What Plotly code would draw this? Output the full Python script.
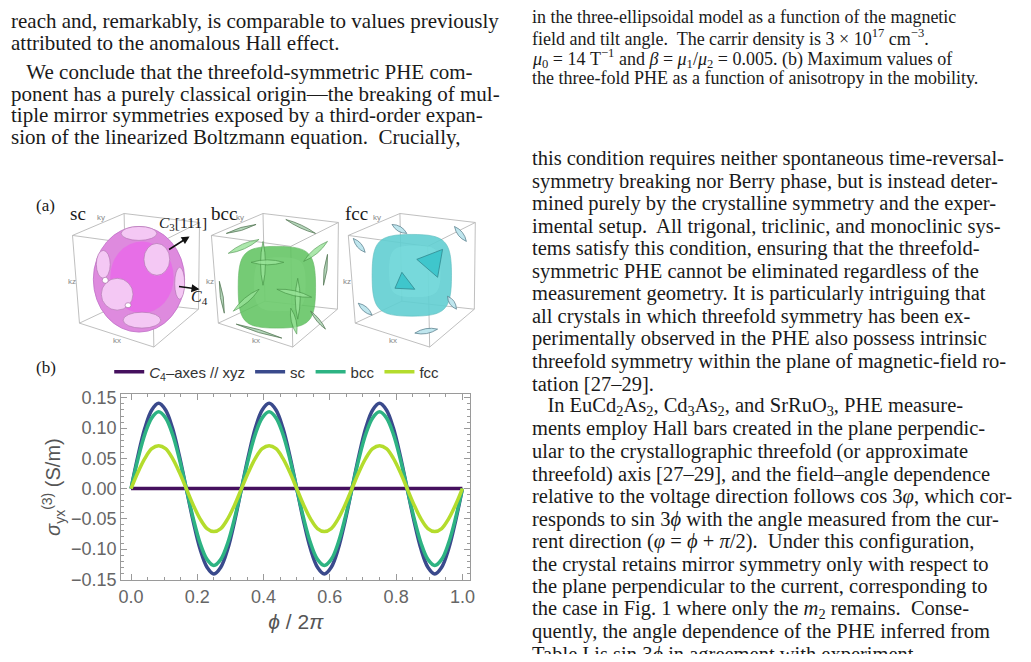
import plotly.graph_objects as go

W, H = 1031, 662
M = 8  # the browser puts an 8px body margin around the figure
# small vertical calibration measured from an earlier render
CAL_S, CAL_C = 0.98, 4.0

# ---- data ----
phi = [0.0, 0.0208, 0.0417, 0.0625, 0.0833, 0.1042, 0.125, 0.1458, 0.1667, 0.1875, 0.2083, 0.2292,
       0.25, 0.2708, 0.2917, 0.3125, 0.3333, 0.3542, 0.375, 0.3958, 0.4167, 0.4375, 0.4583, 0.4792,
       0.5, 0.5208, 0.5417, 0.5625, 0.5833, 0.6042, 0.625, 0.6458, 0.6667, 0.6875, 0.7083, 0.7292,
       0.75, 0.7708, 0.7917, 0.8125, 0.8333, 0.8542, 0.875, 0.8958, 0.9167, 0.9375, 0.9583, 0.9792, 1.0]
sc = [0.0, 0.054, 0.100, 0.130, 0.141, 0.130, 0.100, 0.054, 0.0, -0.054, -0.100, -0.130,
      -0.141, -0.130, -0.100, -0.054, 0.0, 0.054, 0.100, 0.130, 0.141, 0.130, 0.100, 0.054,
      0.0, -0.054, -0.100, -0.130, -0.141, -0.130, -0.100, -0.054, 0.0, 0.054, 0.100, 0.130,
      0.141, 0.130, 0.100, 0.054, 0.0, -0.054, -0.100, -0.130, -0.141, -0.130, -0.100, -0.054, 0.0]
bcc = [0.0, 0.049, 0.090, 0.117, 0.127, 0.117, 0.090, 0.049, 0.0, -0.049, -0.090, -0.117,
       -0.127, -0.117, -0.090, -0.049, 0.0, 0.049, 0.090, 0.117, 0.127, 0.117, 0.090, 0.049,
       0.0, -0.049, -0.090, -0.117, -0.127, -0.117, -0.090, -0.049, 0.0, 0.049, 0.090, 0.117,
       0.127, 0.117, 0.090, 0.049, 0.0, -0.049, -0.090, -0.117, -0.127, -0.117, -0.090, -0.049, 0.0]
fcc = [0.0, 0.027, 0.050, 0.066, 0.071, 0.066, 0.050, 0.027, 0.0, -0.027, -0.050, -0.066,
       -0.071, -0.066, -0.050, -0.027, 0.0, 0.027, 0.050, 0.066, 0.071, 0.066, 0.050, 0.027,
       0.0, -0.027, -0.050, -0.066, -0.071, -0.066, -0.050, -0.027, 0.0, 0.027, 0.050, 0.066,
       0.071, 0.066, 0.050, 0.027, 0.0, -0.027, -0.050, -0.066, -0.071, -0.066, -0.050, -0.027, 0.0]
c4_phi = [0.0, 1.0]
c4 = [0.0, 0.0]

names = ["<i>C</i><sub>4</sub>\u2013axes // xyz", "sc", "bcc", "fcc"]
colors = ["#45105e", "#3a4a8c", "#2db383", "#b4dc2d"]

# ---- page text ----
left_lines = [
    "reach and, remarkably, is comparable to values previously",
    "attributed to the anomalous Hall effect.",
    "   We conclude that the threefold-symmetric PHE com-",
    "ponent has a purely classical origin\u2014the breaking of mul-",
    "tiple mirror symmetries exposed by a third-order expan-",
    "sion of the linearized Boltzmann equation.  Crucially,",
]
left_y = [19, 41, 70, 92, 113, 135]

caption_lines = [
    "in the three-ellipsoidal model as a function of the magnetic",
    "field and tilt angle.  The carrir density is 3 \u00d7 10<sup>17</sup> cm<sup>\u22123</sup>.",
    "<i>\u03bc</i><sub>0</sub> = 14 T<sup>\u22121</sup> and <i>\u03b2</i> = <i>\u03bc</i><sub>1</sub>/<i>\u03bc</i><sub>2</sub> = 0.005. (b) Maximum values of",
    "the three-fold PHE as a function of anisotropy in the mobility.",
]
caption_y = [15, 35.5, 56, 76.5]

body_lines = [
    "this condition requires neither spontaneous time-reversal-",
    "symmetry breaking nor Berry phase, but is instead deter-",
    "mined purely by the crystalline symmetry and the exper-",
    "imental setup.  All trigonal, triclinic, and monoclinic sys-",
    "tems satisfy this condition, ensuring that the threefold-",
    "symmetric PHE cannot be eliminated regardless of the",
    "measurement geometry. It is particularly intriguing that",
    "all crystals in which threefold symmetry has been ex-",
    "perimentally observed in the PHE also possess intrinsic",
    "threefold symmetry within the plane of magnetic-field ro-",
    "tation [27\u201329].",
    "   In EuCd<sub>2</sub>As<sub>2</sub>, Cd<sub>3</sub>As<sub>2</sub>, and SrRuO<sub>3</sub>, PHE measure-",
    "ments employ Hall bars created in the plane perpendic-",
    "ular to the crystallographic threefold (or approximate",
    "threefold) axis [27\u201329], and the field\u2013angle dependence",
    "relative to the voltage direction follows cos 3<i>\u03c6</i>, which cor-",
    "responds to sin 3<i>\u03d5</i> with the angle measured from the cur-",
    "rent direction (<i>\u03c6</i> = <i>\u03d5</i> + <i>\u03c0</i>/2).  Under this configuration,",
    "the crystal retains mirror symmetry only with respect to",
    "the plane perpendicular to the current, corresponding to",
    "the case in Fig. 1 where only the <i>m</i><sub>2</sub> remains.  Conse-",
    "quently, the angle dependence of the PHE inferred from",
    "Table I is sin 3<i>\u03d5</i> in agreement with experiment.",
]
body_y0, body_dy = 157, 22.6


def px(x):
    return (x - M) / (W - 2 * M)


def py(y):
    y = (y - CAL_C) / CAL_S
    return 1 - (y - M) / (H - 2 * M)


def path(points, close=True):
    s = "M " + " L ".join("%.5f,%.5f" % (px(x), py(y)) for x, y in points)
    return s + (" Z" if close else "")


def lens(p, q, w):
    mx, my = (p[0] + q[0]) / 2, (p[1] + q[1]) / 2
    dx, dy = q[0] - p[0], q[1] - p[1]
    d = (dx * dx + dy * dy) ** 0.5
    nx, ny = -dy / d * w, dx / d * w
    return ("M %.5f,%.5f Q %.5f,%.5f %.5f,%.5f Q %.5f,%.5f %.5f,%.5f Z" % (
        px(p[0]), py(p[1]), px(mx + nx), py(my + ny), px(q[0]), py(q[1]),
        px(mx - nx), py(my - ny), px(p[0]), py(p[1])))


def squircle(cx, cy, a, b, k=0.85):
    pts = [(cx, cy - b), (cx + a, cy), (cx, cy + b), (cx - a, cy)]
    ctrl = [((cx + k * a, cy - b), (cx + a, cy - k * b)),
            ((cx + a, cy + k * b), (cx + k * a, cy + b)),
            ((cx - k * a, cy + b), (cx - a, cy + k * b)),
            ((cx - a, cy - k * b), (cx - k * a, cy - b))]
    s = "M %.5f,%.5f" % (px(pts[0][0]), py(pts[0][1]))
    for i in range(4):
        c1, c2 = ctrl[i]
        e = pts[(i + 1) % 4]
        s += " C %.5f,%.5f %.5f,%.5f %.5f,%.5f" % (px(c1[0]), py(c1[1]), px(c2[0]), py(c2[1]), px(e[0]), py(e[1]))
    return s + " Z"


def ellipse(fig, cx, cy, rx, ry, fill, line="rgba(0,0,0,0)", op=1.0, lw=0.8):
    fig.add_shape(type="circle", xref="paper", yref="paper",
                  x0=px(cx - rx), x1=px(cx + rx), y0=py(cy + ry), y1=py(cy - ry),
                  fillcolor=fill, opacity=op, line=dict(color=line, width=lw), layer="above")


def text(fig, x, y, s, size, family="Liberation Serif", color="#1a1a1a", anchor="left"):
    fig.add_annotation(x=px(x), y=py(y), xref="paper", yref="paper", text=s, showarrow=False,
                       xanchor=anchor, yanchor="middle", borderpad=0,
                       font=dict(family=family, size=size, color=color))


fig = go.Figure()

fig.add_trace(go.Scatter(x=c4_phi, y=c4, mode="lines", name=names[0],
                         line=dict(color=colors[0], width=3.5)))
fig.add_trace(go.Scatter(x=phi, y=sc, mode="lines", name=names[1],
                         line=dict(color=colors[1], width=3.5, shape="spline")))
fig.add_trace(go.Scatter(x=phi, y=bcc, mode="lines", name=names[2],
                         line=dict(color=colors[2], width=3.5, shape="spline")))
fig.add_trace(go.Scatter(x=phi, y=fcc, mode="lines", name=names[3],
                         line=dict(color=colors[3], width=3.5, shape="spline")))

axis_common = dict(showline=True, linecolor="#9a9a9a", linewidth=1.2, mirror="allticks",
                   ticks="inside", ticklen=6, tickcolor="#9a9a9a", showgrid=False, zeroline=False,
                   tickfont=dict(family="Liberation Sans", size=18, color="#666666"))

fig.update_layout(
    width=W - 2 * M, height=H - 2 * M,
    margin=dict(l=0, r=0, t=0, b=0),
    paper_bgcolor="white", plot_bgcolor="white",
    xaxis=dict(domain=[px(119), px(471)], range=[-0.03, 1.024], tick0=0, dtick=0.2, tickformat=".1f",
               minor=dict(dtick=0.05, ticklen=3, ticks="inside", tickcolor="#9a9a9a"),
               title=dict(text="<i>\u03d5</i> / 2<i>\u03c0</i>", standoff=8,
                          font=dict(family="Liberation Sans", size=21, color="#555555")),
               **axis_common),
    yaxis=dict(domain=[py(580), py(393)], range=[-0.1516, 0.1566], tick0=0, dtick=0.05, tickformat=".2f",
               minor=dict(dtick=0.01, ticklen=3, ticks="inside", tickcolor="#9a9a9a"),
               title=dict(text="<i>\u03c3</i><sub>yx</sub><sup>(3)</sup> (S/m)", standoff=4,
                          font=dict(family="Liberation Sans", size=20, color="#555555")),
               **axis_common),
    legend=dict(orientation="h", x=px(107), y=py(371), xanchor="left", yanchor="middle",
                font=dict(family="Liberation Sans", size=15, color="#333333"),
                bgcolor="rgba(0,0,0,0)", itemwidth=30),
    showlegend=True,
)

# ---- page text ----
for s, y in zip(left_lines, left_y):
    text(fig, 7, y, s, 21)
for s, y in zip(caption_lines, caption_y):
    text(fig, 532, y, s, 18)
for i, s in enumerate(body_lines):
    text(fig, 532, body_y0 + i * body_dy, s, 20.5)

# ---- panel (a): Fermi surface sketches ----
cube = [(70, 234), (122, 212), (198, 221), (150, 245), (77, 322), (124, 300), (197, 308), (152, 346)]
edges = [(0, 1), (1, 2), (2, 3), (3, 0), (4, 5), (5, 6), (6, 7), (7, 4), (0, 4), (1, 5), (2, 6), (3, 7)]


def draw_cube(dx):
    for a, b in edges:
        p = (cube[a][0] + dx, cube[a][1])
        q = (cube[b][0] + dx, cube[b][1])
        fig.add_shape(type="path", path=path([p, q], close=False), xref="paper", yref="paper",
                      line=dict(color="#b8b8b8", width=0.9), layer="above")


def arrow(tail, head):
    fig.add_annotation(x=px(head[0]), y=py(head[1]), xref="paper", yref="paper",
                       ax=tail[0] - head[0], ay=tail[1] - head[1], axref="pixel", ayref="pixel",
                       showarrow=True, arrowhead=2, arrowsize=1, arrowwidth=1.6,
                       arrowcolor="#111111", text="")


# sc
draw_cube(0)
ellipse(fig, 137, 278, 46, 53, "#de8ade", "#c070c8")
ellipse(fig, 140, 276, 32, 36, "#ee5cee", op=0.6)
for cx, cy, rx, ry in [(137, 232, 18, 7), (155, 258, 13, 16), (178, 282, 5, 16),
                       (101, 263, 7, 14), (115, 293, 16, 16), (140, 319, 19, 8)]:
    ellipse(fig, cx, cy, rx, ry, "#f4c8f4", "#b57ab5", lw=0.7)
ellipse(fig, 103, 279, 3, 3, "white", "#a060a0", lw=0.6)
ellipse(fig, 126, 304, 3, 2.5, "white", "#a060a0", lw=0.6)

# bcc
draw_cube(140)
fig.add_shape(type="path", path=squircle(276, 286, 39, 41), xref="paper", yref="paper",
              fillcolor="#5dc35d", opacity=0.85, line=dict(color="#4aa84a", width=0.6), layer="above")
fig.add_shape(type="path", path=squircle(279, 283, 26, 27), xref="paper", yref="paper",
              fillcolor="#7fd47f", opacity=0.5, line=dict(width=0), layer="above")
for p, q in [((227, 252), (258, 238)), ((262, 240), (262, 284)), ((250, 261), (283, 261)),
             ((303, 260), (327, 240)), ((297, 277), (297, 318)), ((276, 288), (311, 296)),
             ((232, 310), (258, 288)), ((290, 307), (296, 333))]:
    fig.add_shape(type="path", path=lens(p, q, 5), xref="paper", yref="paper",
                  fillcolor="#98e398", opacity=0.8, line=dict(color="#3d8a3d", width=0.7), layer="above")
for p, q in [((225, 232), (255, 223)), ((285, 218), (315, 232)), ((218, 280), (223, 312)),
             ((327, 253), (323, 284)), ((235, 323), (281, 337)), ((310, 310), (325, 328))]:
    fig.add_shape(type="path", path=lens(p, q, 3), xref="paper", yref="paper",
                  fillcolor="#b5d6bb", line=dict(color="#4d704d", width=0.7), layer="above")

# fcc
draw_cube(278)
fig.add_shape(type="path", path=squircle(412, 274, 40, 41), xref="paper", yref="paper",
              fillcolor="#62cfd2", opacity=0.9, line=dict(color="#4bb5b8", width=0.6), layer="above")
fig.add_shape(type="path", path=squircle(415, 270, 26, 26), xref="paper", yref="paper",
              fillcolor="#7ee0e0", opacity=0.5, line=dict(width=0), layer="above")
for tri in [[(417, 258), (443, 248), (438, 276)], [(395, 287), (402, 271), (415, 288)]]:
    fig.add_shape(type="path", path=path(tri), xref="paper", yref="paper",
                  fillcolor="#3fc6cc", line=dict(color="#2b7f86", width=0.7), layer="above")
for p, q in [((392, 223), (407, 232)), ((455, 225), (467, 240)), ((353, 237), (365, 251)),
             ((448, 295), (457, 308)), ((358, 302), (372, 314)), ((415, 332), (438, 328))]:
    fig.add_shape(type="path", path=lens(p, q, 5), xref="paper", yref="paper",
                  fillcolor="#bfe6ee", line=dict(color="#4f7584", width=0.7), layer="above")

# axis names on the boxes
for dx in [0, 140, 278]:
    text(fig, 99 + dx, 216, "ky", 8, "Liberation Sans", "#888888", "center")
    text(fig, 69 + dx, 280, "kz", 8, "Liberation Sans", "#888888", "center")
    text(fig, 115 + dx, 339, "kx", 8, "Liberation Sans", "#888888", "center")

# arrows for the symmetry axes
arrow((166, 249), (188, 235))
arrow((176, 285), (198, 288))

text(fig, 32, 204, "(a)", 17)
text(fig, 66, 212, "sc", 19)
text(fig, 209, 212, "bcc", 19)
text(fig, 344, 212, "fcc", 19)
text(fig, 156, 222, "<i>C</i><sub>3</sub>[111]", 15.5)
text(fig, 188, 296, "<i>C</i><sub>4</sub>", 16)
text(fig, 32, 367, "(b)", 17)

fig.write_html("out.html")
